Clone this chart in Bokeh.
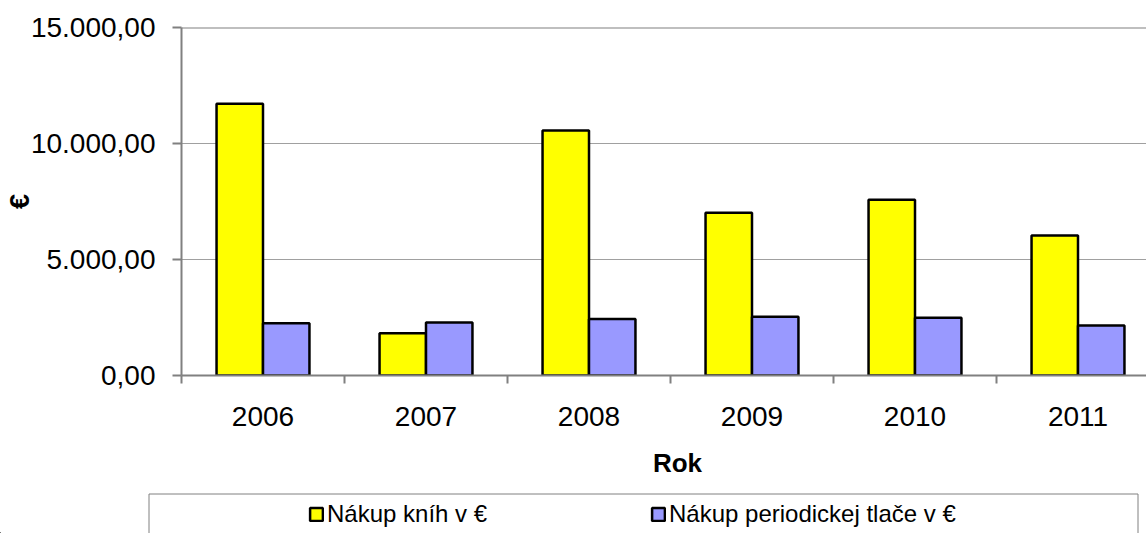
from bokeh.plotting import figure
from bokeh.models import (ColumnDataSource, Range1d, FixedTicker, Span, Label,
                          Legend, LegendItem)
from bokeh.layouts import column
from bokeh.transform import dodge
from bokeh.embed import file_html
from bokeh.resources import INLINE

# ---- data ----
years = ["2006", "2007", "2008", "2009", "2010", "2011"]
books = [11710, 1825, 10560, 7010, 7575, 6035]
periodicals = [2255, 2285, 2430, 2530, 2490, 2155]
series_names = ["Nákup kníh v €", "Nákup periodickej tlače v €"]
y_ticks = [0, 5000, 10000, 15000]
y_tick_labels = ["0,00", "5.000,00", "10.000,00", "15.000,00"]
x_title = "Rok"
y_title = "€"

FONT = "Liberation Sans"
GRAY = "#808080"
YELLOW = "#FFFF00"
BLUE = "#9999FF"

# layout constants (pixels)
W = 1146
H = 533
FRAME_LEFT = 181
FRAME_TOP = 27
FRAME_H = 348
MAIN_H = 438
CAT_PX = 163.0
YMAX = 15000

centers = [i + 0.5 for i in range(len(years))]
src = ColumnDataSource(dict(x=centers, books=books, periodicals=periodicals))

p = figure(width=W, height=MAIN_H, output_backend="svg", toolbar_location=None,
           x_range=Range1d(0, (W - FRAME_LEFT) / CAT_PX), y_range=Range1d(0, YMAX),
           min_border_left=FRAME_LEFT, min_border_right=0, min_border_top=FRAME_TOP,
           min_border_bottom=MAIN_H - FRAME_TOP - FRAME_H)
p.frame_align = False
p.outline_line_color = None
p.background_fill_color = "white"
p.border_fill_color = "white"

bw = 0.285
p.vbar(x=dodge("x", -0.1425, range=p.x_range), top="books", width=bw, source=src,
       fill_color=YELLOW, line_color="black", line_width=2.5)
p.vbar(x=dodge("x", 0.1425, range=p.x_range), top="periodicals", width=bw, source=src,
       fill_color=BLUE, line_color="black", line_width=2.5)

# x axis
p.xaxis.ticker = FixedTicker(ticks=centers, minor_ticks=list(range(len(years) + 1)))
p.xaxis.major_label_overrides = {c: y for c, y in zip(centers, years)}
p.xaxis.major_tick_line_color = None
p.xaxis.major_tick_out = 0
p.xaxis.major_tick_in = 0
p.xaxis.minor_tick_out = 8
p.xaxis.minor_tick_in = 0
p.xaxis.minor_tick_line_color = GRAY
p.xaxis.minor_tick_line_width = 2
p.xaxis.axis_line_color = GRAY
p.xaxis.axis_line_width = 2
p.xaxis.major_label_standoff = 23
p.xaxis.major_label_text_font = FONT
p.xaxis.major_label_text_font_size = "28px"
p.xaxis.major_label_text_color = "black"

# y axis
p.yaxis.ticker = FixedTicker(ticks=y_ticks)
p.yaxis.major_label_overrides = {t: l for t, l in zip(y_ticks, y_tick_labels)}
p.yaxis.major_tick_out = 9
p.yaxis.major_tick_in = 0
p.yaxis.major_tick_line_color = GRAY
p.yaxis.major_tick_line_width = 2
p.yaxis.minor_tick_line_color = None
p.yaxis.axis_line_color = GRAY
p.yaxis.axis_line_width = 2
p.yaxis.major_label_standoff = 17
p.yaxis.major_label_text_font = FONT
p.yaxis.major_label_text_font_size = "28px"
p.yaxis.major_label_text_color = "black"
p.yaxis.axis_label = y_title
p.yaxis.axis_label_text_font = FONT
p.yaxis.axis_label_text_font_size = "27px"
p.yaxis.axis_label_text_font_style = "bold"
p.yaxis.axis_label_text_color = "black"
p.yaxis.axis_label_standoff = -7

# grid
p.xgrid.grid_line_color = None
p.ygrid.ticker = FixedTicker(ticks=y_ticks[1:-1])
p.ygrid.grid_line_color = "#404040"
p.ygrid.grid_line_dash = "1 1"
p.ygrid.grid_line_width = 1

p.add_layout(Span(location=y_ticks[-1], dimension="width", line_color=GRAY, line_width=2))

# bottom panel: x title + legend (data units == pixels, y measured from bottom)
LEG_H = H - MAIN_H
p2 = figure(width=W, height=LEG_H, output_backend="svg", toolbar_location=None,
            x_range=Range1d(0, W), y_range=Range1d(0, LEG_H),
            x_axis_type=None, y_axis_type=None,
            min_border_left=0, min_border_right=0, min_border_top=0, min_border_bottom=0)
p2.frame_align = False
p2.outline_line_color = None
p2.xgrid.visible = False
p2.ygrid.visible = False
p2.background_fill_color = "white"
p2.border_fill_color = "white"

p2.add_layout(Label(x=677, y=H - 462, text=x_title, text_font=FONT, text_font_size="26px",
                    text_font_style="bold", text_align="center",
                    text_baseline="alphabetic", text_color="black"))

p2.multi_line(xs=[[148.5, 148.5, 1137.5, 1137.5]],
              ys=[[-5, H - 493.5, H - 493.5, -5]],
              line_color=GRAY, line_width=1)
r1 = p2.vbar(x=[-1000], top=[-1000], width=1, fill_color=YELLOW, line_color="black", line_width=2.5)
r2 = p2.vbar(x=[-1000], top=[-1000], width=1, fill_color=BLUE, line_color="black", line_width=2.5)
legend = Legend(items=[LegendItem(label=series_names[0], renderers=[r1]),
                       LegendItem(label=series_names[1], renderers=[r2])],
                orientation="horizontal", location=(308, 5),
                padding=0, margin=0, spacing=23, label_width=300,
                glyph_width=16, glyph_height=16, label_standoff=3,
                label_text_font=FONT, label_text_font_size="24px",
                label_text_color="black",
                border_line_color=None, background_fill_alpha=0)
p2.add_layout(legend, "center")

layout = column(p, p2)
open("out.html", "w").write(file_html(layout, INLINE))
